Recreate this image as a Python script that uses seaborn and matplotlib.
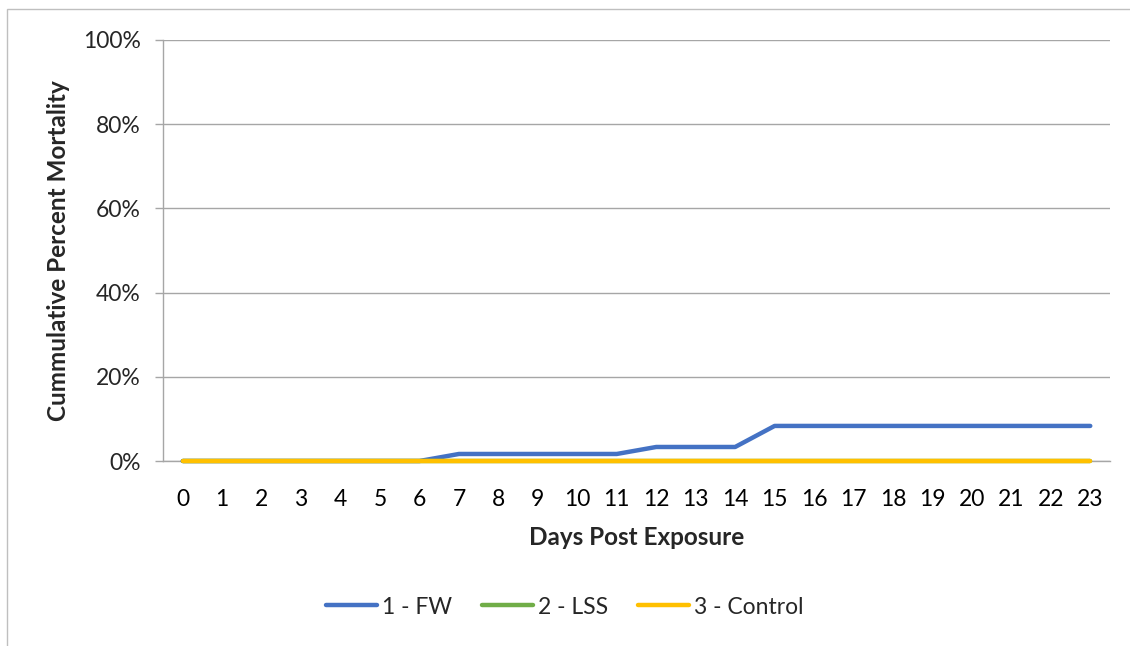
import matplotlib
matplotlib.use("Agg")
import matplotlib.pyplot as plt
import matplotlib.patches as mpatches
from matplotlib.ticker import FixedLocator, PercentFormatter
import numpy as np
import pandas as pd
import seaborn as sns

# Cumulative mortality by day after exposure (percent)
days = list(range(24))
fw = [0, 0, 0, 0, 0, 0, 0, 1.67, 1.67, 1.67, 1.67, 1.67, 3.33, 3.33, 3.33,
      8.33, 8.33, 8.33, 8.33, 8.33, 8.33, 8.33, 8.33, 8.33]
lss = [0] * 24
control = [0] * 24
series_names = ["1 - FW", "2 - LSS", "3 - Control"]
colors = ["#4472C4", "#70AD47", "#FFC000"]
y_ticks = [0, 20, 40, 60, 80, 100]

df = pd.DataFrame({
    "day": days * 3,
    "value": fw + lss + control,
    "group": [series_names[0]] * 24 + [series_names[1]] * 24 + [series_names[2]] * 24,
})

sns.set_style("white")
plt.rcParams["font.family"] = ["Lato", "DejaVu Sans"]

fig = plt.figure(figsize=(11.3, 6.46), dpi=100)
ax = fig.add_axes([163 / 1130, 1 - 461 / 646, (1110 - 163) / 1130, (461 - 40) / 646])

sns.lineplot(data=df, x="day", y="value", hue="group", hue_order=series_names,
             palette=colors, linewidth=3.2, ax=ax, legend=True, sort=False)
# Let the zero-valued series show their full stroke over the baseline
for line in ax.get_lines():
    line.set_clip_on(False)
    line.set_zorder(3)

grid_c = "#A6A6A6"
ax.set_xlim(-0.5, 23.5)
ax.set_ylim(0, 100)
ax.yaxis.set_major_locator(FixedLocator(y_ticks))
ax.yaxis.set_major_formatter(PercentFormatter(decimals=0))
ax.set_xticks(days)
ax.set_xticklabels([str(d) for d in days])
ax.xaxis.set_minor_locator(FixedLocator(np.arange(-0.5, 24, 1)))
ax.tick_params(axis="x", which="major", length=0, labelsize=16.5, pad=20, colors="black")
ax.tick_params(axis="x", which="minor", length=6, width=1, color=grid_c, direction="out")
ax.tick_params(axis="y", which="major", length=6, width=1, color=grid_c, labelsize=16.5,
               pad=10, left=True, direction="out")
ax.yaxis.grid(True, color=grid_c, linewidth=1)
ax.set_axisbelow(True)
for side in ["top", "right"]:
    ax.spines[side].set_visible(False)
for side in ["left", "bottom"]:
    ax.spines[side].set_color(grid_c)
    ax.spines[side].set_linewidth(1)

ax.set_xlabel("Days Post Exposure", fontsize=17.5, fontweight="bold", labelpad=12)
ax.set_ylabel("Cummulative Percent Mortality", fontsize=17.5, fontweight="bold", labelpad=9)

handles, labels = ax.get_legend_handles_labels()
ax.legend(handles, labels, loc="center", bbox_to_anchor=(0.5, (646 - 607) / 646),
          bbox_transform=fig.transFigure, ncol=3, frameon=False, fontsize=16.5,
          handlelength=2.2, handletextpad=0.25, columnspacing=1.3)

# Outer chart frame
fig.patches.append(mpatches.Rectangle((7 / 1130, -0.1), 1.2, 1 - 9 / 646 + 0.1,
                                      transform=fig.transFigure, fill=False,
                                      edgecolor="#BFBFBF", linewidth=1))

fig.savefig("out.png", dpi=100)
